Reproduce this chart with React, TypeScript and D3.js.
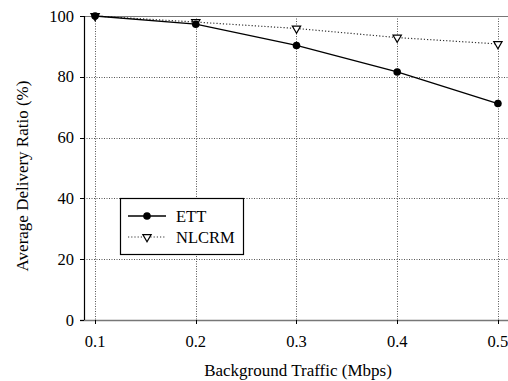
import React from "react";
import * as d3 from "d3";

// chart data
const traffic = [0.1, 0.2, 0.3, 0.4, 0.5];
const ettRatio = [100, 97.3, 90.3, 81.6, 71.2];
const nlcrmRatio = [100, 98, 95.9, 92.9, 90.8];
const yTicks = [0, 20, 40, 60, 80, 100];
const xTicks = [0.1, 0.2, 0.3, 0.4, 0.5];
const seriesNames = ["ETT", "NLCRM"];

const W = 508;
const H = 381;
const serif = '"Liberation Serif", "Times New Roman", serif';
const tickTxt = { fontFamily: serif, fontSize: 16.5 };
const titleTxt = { fontFamily: serif, fontSize: 17 };

const x = d3.scaleLinear().domain([0.089, 0.512]).range([84, 510]);
const y = d3.scaleLinear().domain([0, 100]).range([320, 16]);

const tri = d3.symbol().type(d3.symbolTriangle).size(30);

const App = () => {
  const [x0] = x.range();
  const [y0, y1] = y.range();

  const ettLine = d3.line<number>()
    .x((_, i) => x(traffic[i]))
    .y((d) => y(d))(ettRatio);
  const nlcrmLine = d3.line<number>()
    .x((_, i) => x(traffic[i]))
    .y((d) => y(d))(nlcrmRatio);

  // legend placement
  const lg = { x: 120, y: 198, w: 123, h: 56 };

  return (
    <div style={{ position: "absolute", left: 0, top: 0 }}>
      <svg width={W} height={H} style={{ display: "block", background: "#fff" }}>
        {/* grid */}
        <g stroke="#555" strokeDasharray="1,1.5" strokeWidth={1}>
          {yTicks.filter((t) => t > 0 && t < 100).map((t) => (
            <line key={"gy" + t} x1={x0} x2={W} y1={Math.round(y(t)) + 0.5} y2={Math.round(y(t)) + 0.5} />
          ))}
          {xTicks.map((t) => (
            <line key={"gx" + t} x1={Math.round(x(t)) + 0.5} x2={Math.round(x(t)) + 0.5} y1={y1} y2={y0} />
          ))}
        </g>

        {/* frame */}
        <line x1={x0} x2={W} y1={y1 + 0.5} y2={y1 + 0.5} stroke="#777" strokeWidth={1.2} />
        <line x1={x0 - 4} x2={W} y1={y0 + 0.5} y2={y0 + 0.5} stroke="#777" strokeWidth={1.6} />
        <line x1={x0 + 0.5} x2={x0 + 0.5} y1={y1} y2={y0} stroke="#000" strokeWidth={1.2} />

        {/* y axis ticks and labels */}
        {yTicks.map((t) => (
          <g key={"yt" + t}>
            <line x1={x0 - 4} x2={x0} y1={Math.round(y(t)) + 0.5} y2={Math.round(y(t)) + 0.5} stroke="#000" />
            <text x={x0 - 10} y={y(t) + 5.5} textAnchor="end" style={tickTxt} fill="#000">
              {t}
            </text>
          </g>
        ))}

        {/* x axis ticks and labels */}
        {xTicks.map((t) => (
          <g key={"xt" + t}>
            <line x1={Math.round(x(t)) + 0.5} x2={Math.round(x(t)) + 0.5} y1={y0} y2={y0 + 4} stroke="#000" />
            <text x={x(t)} y={y0 + 27} textAnchor="middle" style={tickTxt} fill="#000">
              {t.toFixed(1)}
            </text>
          </g>
        ))}

        {/* axis titles */}
        <text x={298} y={376} textAnchor="middle" style={titleTxt}>
          Background Traffic (Mbps)
        </text>
        <text transform="translate(28,176) rotate(-90)" textAnchor="middle" style={titleTxt}>
          Average Delivery Ratio (%)
        </text>

        {/* series */}
        <path d={nlcrmLine ?? ""} fill="none" stroke="#333" strokeWidth={1.2} strokeDasharray="1.2,2" />
        <path d={ettLine ?? ""} fill="none" stroke="#000" strokeWidth={1.3} />
        {nlcrmRatio.map((v, i) => (
          <path
            key={"n" + i}
            d={tri() ?? ""}
            transform={`translate(${x(traffic[i])},${y(v)}) rotate(180)`}
            fill="#fff"
            stroke="#000"
            strokeWidth={1.2}
          />
        ))}
        {ettRatio.map((v, i) => (
          <circle key={"e" + i} cx={x(traffic[i])} cy={y(v)} r={3.8} fill="#000" />
        ))}

        {/* legend */}
        <rect x={lg.x + 0.5} y={lg.y + 0.5} width={lg.w} height={lg.h} fill="#fff" stroke="#000" strokeWidth={1.2} />
        {seriesNames.map((name, i) => {
          const ly = lg.y + 18 + i * 21;
          return (
            <g key={name}>
              <line
                x1={lg.x + 8}
                x2={lg.x + 46}
                y1={ly}
                y2={ly}
                stroke={i === 0 ? "#000" : "#333"}
                strokeWidth={i === 0 ? 1.3 : 1.2}
                strokeDasharray={i === 0 ? undefined : "1.2,2"}
              />
              {i === 0 ? (
                <circle cx={lg.x + 27} cy={ly} r={3.8} fill="#000" />
              ) : (
                <path d={tri() ?? ""} transform={`translate(${lg.x + 27},${ly}) rotate(180)`} fill="#fff" stroke="#000" strokeWidth={1.2} />
              )}
              <text x={lg.x + 56} y={ly + 6} style={tickTxt}>
                {name}
              </text>
            </g>
          );
        })}
      </svg>
    </div>
  );
};

export default App;
